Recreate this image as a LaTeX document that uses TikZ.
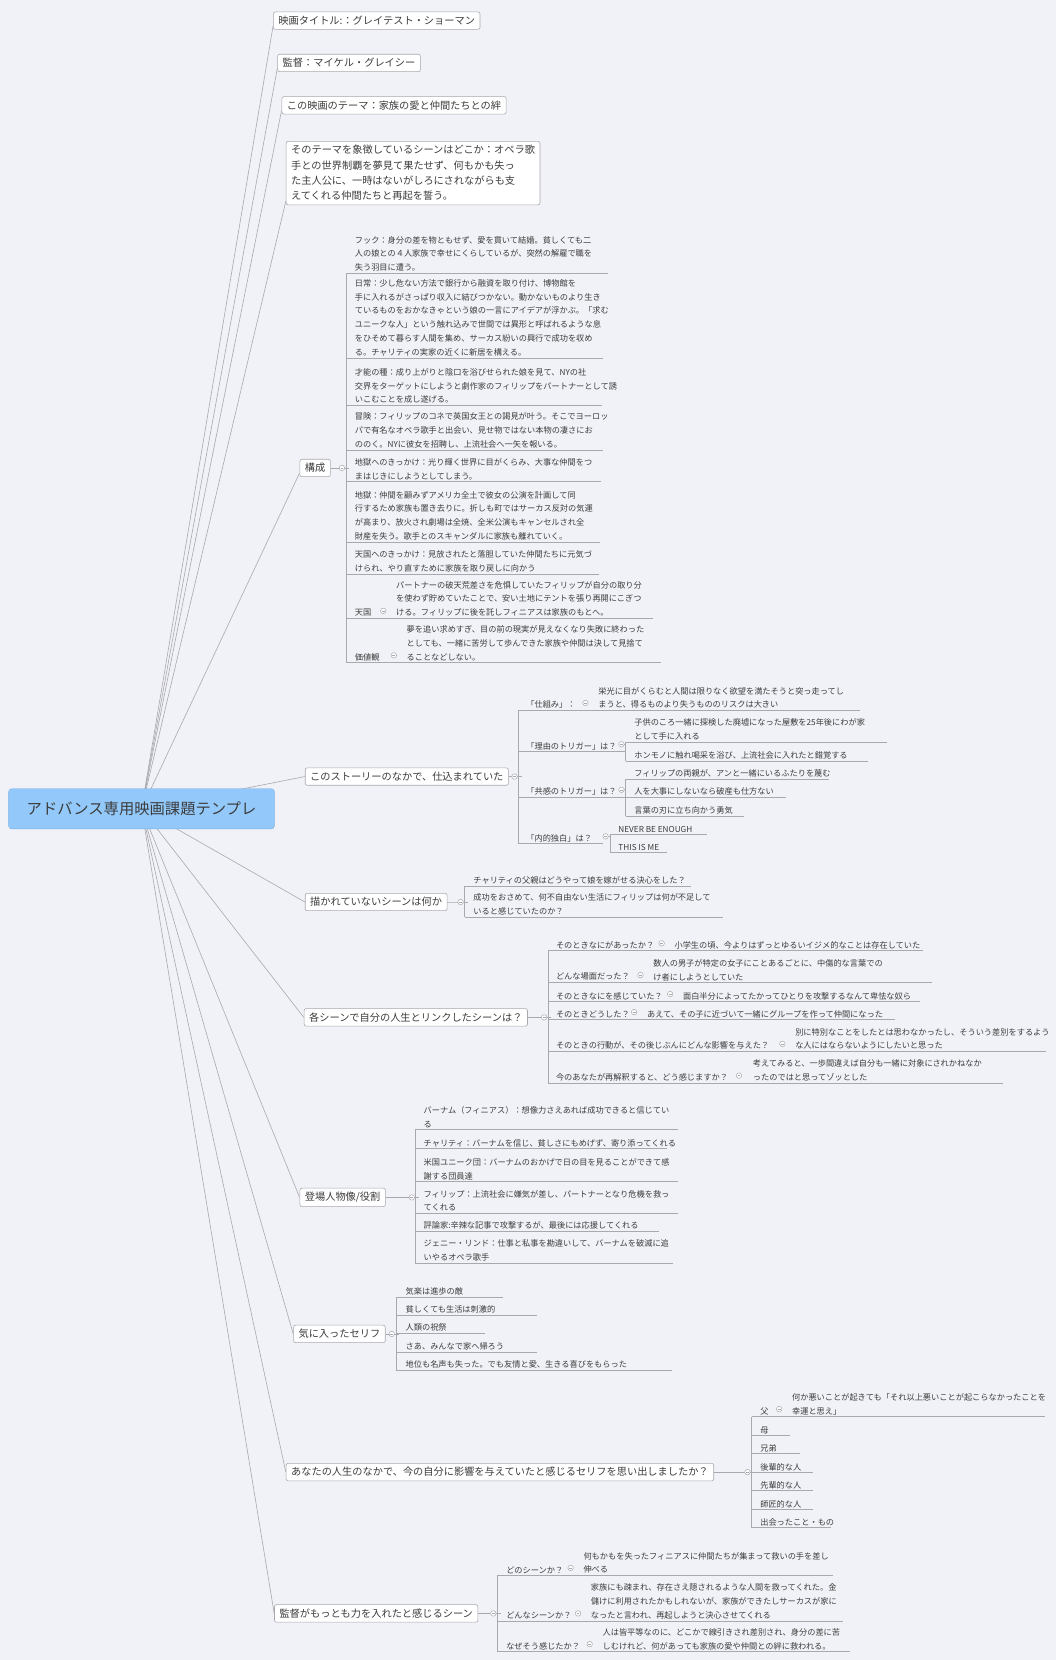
\documentclass[tikz,border=0pt]{standalone}
\usepackage{fontspec}
\setmainfont{Noto Sans CJK JP}
\usetikzlibrary{backgrounds}
\definecolor{bg}{HTML}{F1F2F7}
\definecolor{ln}{HTML}{A8A8AE}
\definecolor{tx}{HTML}{3C3C3C}
\definecolor{rootfill}{HTML}{92C9FA}
\definecolor{rootdraw}{HTML}{7DB2E2}
\tikzset{
  ln/.style={draw=ln,line width=0.6pt},
  box/.style={draw=ln,fill=white,rounded corners=2pt,text=tx,inner xsep=5pt,inner ysep=4pt,anchor=west,line width=0.6pt},
  bfont/.style={font=\fontsize{10.2}{15}\selectfont},
  leaf/.style={text=tx,inner xsep=0pt,inner ysep=1.6pt,align=left,anchor=south west,font=\fontsize{8.2}{13.8}\selectfont},
  cir/.style={circle,draw=ln,fill=white,minimum size=5.5pt,inner sep=0pt,line width=0.5pt,
    path picture={\draw[ln,line width=0.4pt] ([xshift=1.3pt]path picture bounding box.west) -- ([xshift=-1.3pt]path picture bounding box.east);}}
}
% leaf: name, vertical x, text x, underline y, right end, text
\newcommand\lf[6]{\node[leaf] (#1) at (#3,#4) {#6}; \draw[ln] (#2,#4) -- (#5,#4);}
% labelled leaf: name, vx, label x, circle x, text x, y, right end, label, text
\newcommand\lt[9]{\node[leaf] (#1l) at (#3,#6) {#8}; \node[cir] (#1c) at (#4,#6-7) {}; \node[leaf] (#1) at (#5,#6) {#9}; \draw[ln] (#2,#6) -- (#7,#6);}
\begin{document}
\begin{tikzpicture}[x=1.058pt,y=-1.058pt]
\begin{pgfonlayer}{background}
\fill[bg] (0,0) rectangle (997,1568);
\end{pgfonlayer}
\useasboundingbox (0,0) rectangle (997,1568);

% root
\node[draw=rootdraw,fill=rootfill,rounded corners=3pt,text=tx,font=\fontsize{15.3}{18}\selectfont,minimum width=251*1.058pt,minimum height=38*1.058pt,anchor=west] (root) at (8,764) {アドバンス専用映画課題テンプレ};

% top boxes
\node[box,bfont] (t1) at (258,19.5) {映画タイトル:：グレイテスト・ショーマン};
\node[box,bfont] (t2) at (262,59.5) {監督：マイケル・グレイシー};
\node[box,bfont] (t3) at (266,99.5) {この映画のテーマ：家族の愛と仲間たちとの絆};
\node[box,bfont,align=left,font=\fontsize{10.2}{15.3}\selectfont] (t4) at (270,163.5) {そのテーマを象徴しているシーンはどこか：オペラ歌\\手との世界制覇を夢見て果たせず、何もかも失っ\\た主人公に、一時はないがしろにされながらも支\\えてくれる仲間たちと再起を誓う。};

% 構成
\node[box,bfont] (k) at (283,442) {構成};
\node[cir] (kc) at (323,442) {};
\draw[ln] (327,258) -- (327,626);
\lf{k1}{327}{335}{258}{574}{フック：身分の差を物ともせず、愛を貫いて結婚。貧しくても二\\人の娘との４人家族で幸せにくらしているが、突然の解雇で職を\\失う羽目に遭う。}
\lf{k2}{327}{335}{338}{570}{日常：少し危ない方法で銀行から融資を取り付け、博物館を\\手に入れるがさっぱり収入に結びつかない。動かないものより生き\\ているものをおかなきゃという娘の一言にアイデアが浮かぶ。「求む\\ユニークな人」という触れ込みで世間では異形と呼ばれるような息\\をひそめて暮らす人間を集め、サーカス紛いの興行で成功を収め\\る。チャリティの実家の近くに新居を構える。}
\lf{k3}{327}{335}{383}{569}{才能の種：成り上がりと陰口を浴びせられた娘を見て、NYの社\\交界をターゲットにしようと劇作家のフィリップをパートナーとして誘\\いこむことを成し遂げる。}
\lf{k4}{327}{335}{425}{570}{冒険：フィリップのコネで英国女王との謁見が叶う。そこでヨーロッ\\パで有名なオペラ歌手と出会い、見せ物ではない本物の凄さにお\\ののく。NYに彼女を招聘し、上流社会へ一矢を報いる。}
\lf{k5}{327}{335}{455}{568}{地獄へのきっかけ：光り輝く世界に目がくらみ、大事な仲間をつ\\まはじきにしようとしてしまう。}
\lf{k6}{327}{335}{512}{567}{地獄：仲間を顧みずアメリカ全土で彼女の公演を計画して同\\行するため家族も置き去りに。折しも町ではサーカス反対の気運\\が高まり、放火され劇場は全焼、全米公演もキャンセルされ全\\財産を失う。歌手とのスキャンダルに家族も離れていく。}
\lf{k7}{327}{335}{542}{566}{天国へのきっかけ：見放されたと落胆していた仲間たちに元気づ\\けられ、やり直すために家族を取り戻しに向かう}
\lt{k8}{327}{335}{362}{374}{584}{617}{天国}{パートナーの破天荒差さを危惧していたフィリップが自分の取り分\\を使わず貯めていたことで、安い土地にテントを張り再開にこぎつ\\ける。フィリップに後を託しフィニアスは家族のもとへ。}
\lt{k9}{327}{335}{372}{384}{626}{624}{価値観}{夢を追い求めすぎ、目の前の現実が見えなくなり失敗に終わった\\としても、一緒に苦労して歩んできた家族や仲間は決して見捨て\\ることなどしない。}

% このストーリー
\node[box,bfont] (s) at (288,733.5) {このストーリーのなかで、仕込まれていた};
\node[cir] (sc) at (486,733.5) {};
\draw[ln] (490,671) -- (490,797);
\lt{s1}{490}{497}{553}{565}{671}{812}{「仕組み」：}{栄光に目がくらむと人間は限りなく欲望を満たそうと突っ走ってし\\まうと、得るものより失うもののリスクは大きい}
\lf{s2l}{490}{497}{710}{590}{「理由のトリガー」は？}
\node[cir] (s2c) at (587,703) {};
\draw[ln] (591,701) -- (591,719);
\lf{s21}{591}{599}{701}{838}{子供のころ一緒に探検した廃墟になった屋敷を25年後にわが家\\として手に入れる}
\lf{s22}{591}{599}{719}{820}{ホンモノに触れ喝采を浴び、上流社会に入れたと錯覚する}
\lf{s3l}{490}{497}{753}{590}{「共感のトリガー」は？}
\node[cir] (s3c) at (587,746) {};
\draw[ln] (591,736) -- (591,771);
\lf{s31}{591}{599}{736}{783}{フィリップの両親が、アンと一緒にいるふたりを蔑む}
\lf{s32}{591}{599}{753}{742}{人を大事にしないなら破産も仕方ない}
\lf{s33}{591}{599}{771}{703}{言葉の刃に立ち向かう勇気}
\lf{s4l}{490}{497}{797}{570}{「内的独白」は？}
\node[cir] (s4c) at (572,790) {};
\draw[ln] (576,788) -- (576,805);
\lf{s41}{576}{584}{788}{668}{NEVER BE ENOUGH}
\lf{s42}{576}{584}{805}{630}{THIS IS ME}

% 描かれていない
\node[box,bfont] (d) at (288,852) {描かれていないシーンは何か};
\node[cir] (dc) at (435,852) {};
\draw[ln] (439,837) -- (439,866);
\lf{d1}{439}{447}{837}{653}{チャリティの父親はどうやって娘を嫁がせる決心をした？}
\lf{d2}{439}{447}{866}{683}{成功をおさめて、何不自由ない生活にフィリップは何が不足して\\いると感じていたのか？}

% 各シーン
\node[box,bfont] (e) at (287,961) {各シーンで自分の人生とリンクしたシーンは？};
\node[cir] (ec) at (514,961) {};
\draw[ln] (518,898) -- (518,1023);
\lt{e1}{518}{525}{625}{637}{898}{872}{そのときなにがあったか？}{小学生の頃、今よりはずっとゆるいイジメ的なことは存在していた}
\lt{e2}{518}{525}{605}{617}{928}{880}{どんな場面だった？}{数人の男子が特定の女子にことあるごとに、中傷的な言葉での\\け者にしようとしていた}
\lt{e3}{518}{525}{633}{645}{946}{869}{そのときなにを感じていた？}{面白半分によってたかってひとりを攻撃するなんて卑怯な奴ら}
\lt{e4}{518}{525}{599}{611}{963}{845}{そのときどうした？}{あえて、その子に近づいて一緒にグループを作って仲間になった}
\lt{e5}{518}{525}{739}{751}{993}{988}{そのときの行動が、その後じぶんにどんな影響を与えた？}{別に特別なことをしたとは思わなかったし、そういう差別をするよう\\な人にはならないようにしたいと思った}
\lt{e6}{518}{525}{698}{711}{1023}{947}{今のあなたが再解釈すると、どう感じますか？}{考えてみると、一歩間違えば自分も一緒に対象にされかねなか\\ったのではと思ってゾッとした}

% 登場人物
\node[box,bfont] (f) at (283,1131) {登場人物像/役割};
\node[cir] (fc) at (389,1131) {};
\draw[ln] (392,1067) -- (392,1193);
\lf{f1}{392}{400}{1067}{640}{バーナム（フィニアス）：想像力さえあれば成功できると信じてい\\る}
\lf{f2}{392}{400}{1085}{630}{チャリティ：バーナムを信じ、貧しさにもめげず、寄り添ってくれる}
\lf{f3}{392}{400}{1116}{640}{米国ユニーク団：バーナムのおかげで日の目を見ることができて感\\謝する団員達}
\lf{f4}{392}{400}{1146}{640}{フィリップ：上流社会に嫌気が差し、パートナーとなり危機を救っ\\てくれる}
\lf{f5}{392}{400}{1163}{622}{評論家:辛辣な記事で攻撃するが、最後には応援してくれる}
\lf{f6}{392}{400}{1193}{636}{ジェニー・リンド：仕事と私事を勘違いして、バーナムを破滅に追\\いやるオペラ歌手}

% 気に入ったセリフ
\node[box,bfont] (g) at (277,1260) {気に入ったセリフ};
\node[cir] (gc) at (370,1260) {};
\draw[ln] (374,1225) -- (374,1294);
\lf{g1}{374}{383}{1225}{475}{気楽は進歩の敵}
\lf{g2}{374}{383}{1242}{507}{貧しくても生活は刺激的}
\lf{g3}{374}{383}{1259}{458}{人類の祝祭}
\lf{g4}{374}{383}{1277}{507}{さあ、みんなで家へ帰ろう}
\lf{g5}{374}{383}{1294}{635}{地位も名声も失った。でも友情と愛、生きる喜びをもらった}

% あなたの人生
\node[box,bfont] (h) at (270,1390.5) {あなたの人生のなかで、今の自分に影響を与えていたと感じるセリフを思い出しましたか？};
\node[cir] (hc) at (706,1390.5) {};
\draw[ln] (710,1338) -- (710,1443);
\lt{h1}{710}{718}{736}{748}{1338}{987}{父}{何か悪いことが起きても「それ以上悪いことが起こらなかったことを\\幸運と思え」}
\lf{h2}{710}{718}{1356}{746}{母}
\lf{h3}{710}{718}{1373}{756}{兄弟}
\lf{h4}{710}{718}{1391}{768}{後輩的な人}
\lf{h5}{710}{718}{1408}{768}{先輩的な人}
\lf{h6}{710}{718}{1426}{768}{師匠的な人}
\lf{h7}{710}{718}{1443}{785}{出会ったこと・もの}

% 監督
\node[box,bfont] (m) at (259,1524) {監督がもっとも力を入れたと感じるシーン};
\node[cir] (mc) at (466,1524) {};
\draw[ln] (470,1488) -- (470,1560);
\lt{m1}{470}{478}{539}{551}{1488}{787}{どのシーンか？}{何もかもを失ったフィニアスに仲間たちが集まって救いの手を差し\\伸べる}
\lt{m2}{470}{478}{546}{558}{1531}{796}{どんなシーンか？}{家族にも疎まれ、存在さえ隠されるような人間を救ってくれた。金\\儲けに利用されたかもしれないが、家族ができたしサーカスが家に\\なったと言われ、再起しようと決心させてくれる}
\lt{m3}{470}{478}{557}{569}{1560}{803}{なぜそう感じたか？}{人は皆平等なのに、どこかで線引きされ差別され、身分の差に苦\\しむけれど、何があっても家族の愛や仲間との絆に救われる。}

% connectors
\begin{pgfonlayer}{background}
\foreach \n in {t1,t2,t3,t4,k} \draw[ln] (root.center) -- ([yshift=4pt]\n.south west);
\foreach \n in {s,d,e,f,g,h,m} \draw[ln] (root.center) -- (\n.west);
\foreach \n/\c in {k/kc,s/sc,d/dc,e/ec,f/fc,g/gc,h/hc,m/mc} \draw[ln] (\n.east) -- (\c.east) -- ++(4,0);
\draw[ln] (s2c) -- ++(4,0); \draw[ln] (s3c) -- ++(4,0); \draw[ln] (s4c) -- ++(4,0);
\end{pgfonlayer}
\end{tikzpicture}
\end{document}
